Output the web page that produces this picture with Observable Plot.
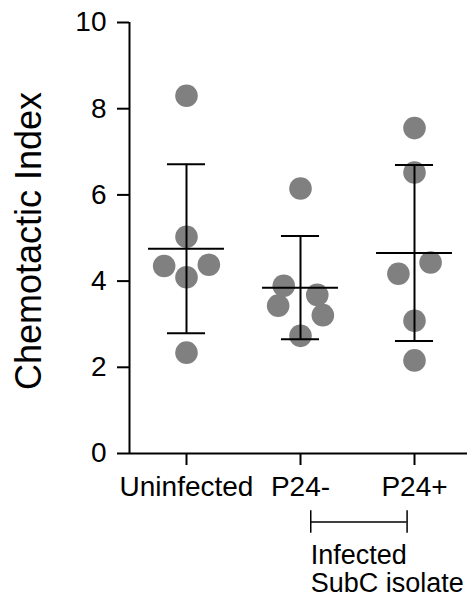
<!DOCTYPE html>
<html><head><meta charset="utf-8">
<script src="https://cdn.jsdelivr.net/npm/d3@7"></script>
<script src="https://cdn.jsdelivr.net/npm/@observablehq/plot@0.6"></script>
<style>html,body{margin:0;padding:0;background:#fff}svg{display:block}</style>
</head><body><div id="chart"></div>
<script>
const groups = ["Uninfected", "P24-", "P24+"];
const uninfected = [8.30, 5.03, 4.35, 4.38, 4.09, 2.34];
const p24neg = [6.15, 3.89, 3.43, 3.68, 3.21, 2.73];
const p24pos = [7.55, 6.52, 4.17, 4.43, 3.08, 2.16];
// column slot of each dot inside its scatter column (in dot widths)
const uninfectedSlot = [0, 0, -1, 1, 0, 0];
const p24negSlot = [0, -0.75, -1, 0.75, 1, 0];
const p24posSlot = [0, 0, -0.72, 0.72, 0, 0];
const yTicks = [0, 2, 4, 6, 8, 10];
const yLabel = "Chemotactic Index";
const bracketLabel = "Infected\nSubC isolate";

const series = [uninfected, p24neg, p24pos];
const slots = [uninfectedSlot, p24negSlot, p24posSlot];
const points = series.flatMap((vals, g) => vals.map((v, k) => ({g, v, slot: slots[g][k]})));
const stats = series.map((vals, g) => {
  const m = d3.mean(vals), s = d3.deviation(vals);
  return {g, mean: m, lo: m - s, hi: m + s};
});
const SLOT = 0.196;

const font = "'Liberation Sans', Arial, Helvetica, sans-serif";
const chart = Plot.plot({
  width: 467,
  height: 607,
  marginTop: 22,
  marginBottom: 154,
  marginLeft: 129,
  marginRight: 0,
  style: {fontFamily: font, color: "#000", background: "#fff", overflow: "visible"},
  x: {type: "linear", domain: [-0.5, 2.5], range: [129, 471]},
  y: {domain: [0, 10]},
  marks: [
    Plot.dot(points, {x: d => d.g + d.slot * SLOT, y: "v", r: 11.3, fill: "#808080"}),
    Plot.ruleX(stats, {x: "g", y1: "lo", y2: "hi", stroke: "#000", strokeWidth: 2}),
    Plot.ruleY(stats, {y: "lo", x1: d => d.g - 0.167, x2: d => d.g + 0.167, stroke: "#000", strokeWidth: 2}),
    Plot.ruleY(stats, {y: "hi", x1: d => d.g - 0.167, x2: d => d.g + 0.167, stroke: "#000", strokeWidth: 2}),
    Plot.ruleY(stats, {y: "mean", x1: d => d.g - 0.333, x2: d => d.g + 0.333, stroke: "#000", strokeWidth: 2}),
    Plot.ruleX([-0.5], {stroke: "#000", strokeWidth: 2}),
    Plot.ruleY([0], {stroke: "#000", strokeWidth: 2}),
    Plot.axisY({ticks: yTicks, tickSize: 12, tickPadding: 11, fontSize: 28, label: null, tickFormat: d => d, strokeWidth: 2}),
    Plot.axisX({ticks: [0, 1, 2], tickFormat: i => groups[i], tickSize: 12, tickPadding: 11, fontSize: 28, label: null, strokeWidth: 2}),
    Plot.text([yLabel], {frameAnchor: "left", textAnchor: "middle", rotate: -90, dx: -100, dy: 3, fontSize: 36, fill: "#000"}),
    Plot.ruleY([-1.59], {x1: () => 1.09, x2: () => 1.935, stroke: "#000", strokeWidth: 1.5}),
    Plot.ruleX([1.09, 1.935], {y1: () => -1.33, y2: () => -1.85, stroke: "#000", strokeWidth: 1.5}),
    Plot.text([bracketLabel], {x: () => 1.09, y: () => -2.1, textAnchor: "start", lineAnchor: "top", fontSize: 27, lineHeight: 1.05, fill: "#000"})
  ]
});
document.getElementById("chart").appendChild(chart);
</script>
</body></html>
